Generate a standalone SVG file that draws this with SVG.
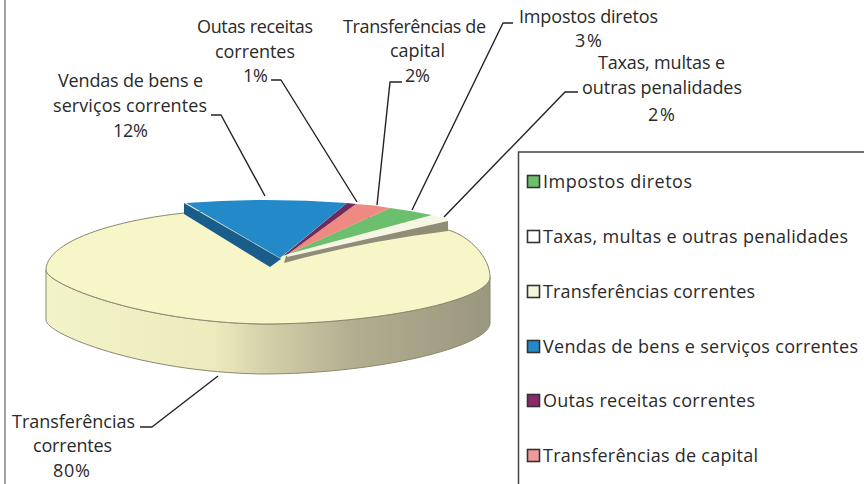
<svg xmlns="http://www.w3.org/2000/svg" width="864" height="484" viewBox="0 0 864 484">
  <defs>
    <linearGradient id="sideGrad" x1="46" y1="0" x2="490" y2="0" gradientUnits="userSpaceOnUse">
      <stop offset="0" stop-color="#f3f3c9"/>
      <stop offset="0.38" stop-color="#ecebbd"/>
      <stop offset="0.5" stop-color="#d3cfa8"/>
      <stop offset="0.7" stop-color="#b0ad90"/>
      <stop offset="1" stop-color="#9a977f"/>
    </linearGradient>
    <style>
      text { font-family: "Open Sans", "DejaVu Sans", sans-serif; font-size: 18px; fill: #2a2a2a; }
      .lead { fill: none; stroke: #222; stroke-width: 1.4; stroke-linejoin: round; }
      .sw { stroke: #333; stroke-width: 1.6; }
      .edge { stroke: #8a8870; stroke-width: 1; }
    </style>
  </defs>
  <rect x="0" y="0" width="864" height="484" fill="#ffffff"/>
  <line x1="5" y1="0" x2="5" y2="484" stroke="#666" stroke-width="1.2"/>

  <g id="pie">
    <g id="slice-transferencias-correntes">
      <path class="edge" fill="url(#sideGrad)" d="M46,270 C46,284 140,322 262,324 C380,324 490,300 490,277 L490,323 C490,346 380,374 262,374 C140,372 46,334 46,320 Z"/>
      <path class="edge" fill="#f6f6c9" d="M46,270 C46,235 150,210 240,210 C320,210 420,222 448,230 C470,236 490,258 490,277 C490,300 380,324 262,324 C140,322 46,284 46,270 Z"/>
    </g>
    <g id="slice-small">
      <path fill="#8f8c78" d="M448,219 L448,231 Q360,242 284,263 L286,256 Z"/>
      <path fill="#f7f6e4" d="M432,215 L448,219 L448,221 L287,257 L288,254 Z"/>
      <path fill="#6cbf6c" d="M390,208 Q412,211 432,215 L288,254 Z"/>
      <path fill="#ef8a82" d="M356,204 Q374,205 390,208 L288,254 Z"/>
      <path fill="#6e2a5e" d="M347,203 L356,204 L288,254 L283,256 Z"/>
    </g>
    <g id="slice-vendas">
      <path fill="#1b5d8a" d="M184,203 L184,214 L270,267 L281,259 Z"/>
      <path fill="#2389c9" d="M186,203 Q266,197 347,203 L280,258 Z"/>
    </g>
  </g>

  <g id="connectors">
    <polyline class="lead" points="211,115 221,115 265,196"/>
    <polyline class="lead" points="271,80 281,80 357,202"/>
    <polyline class="lead" points="402,82 390,82 377,205"/>
    <polyline class="lead" points="513,23 503,23 412,210"/>
    <polyline class="lead" points="578,92 565,92 444,217"/>
    <polyline class="lead" points="140,427 152,427 218,376"/>
  </g>

  <g id="labels">
    <g id="label-outas">
      <text x="197" y="33" textLength="116">Outas receitas</text>
      <text x="215" y="58" textLength="80">correntes</text>
      <text x="243" y="82" textLength="25">1%</text>
    </g>
    <g id="label-transf-capital">
      <text x="343" y="33" textLength="143">Transferências de</text>
      <text x="390" y="57" textLength="55">capital</text>
      <text x="405" y="82" textLength="25">2%</text>
    </g>
    <g id="label-impostos">
      <text x="519" y="23" textLength="139">Impostos diretos</text>
      <text x="575" y="47" textLength="27">3%</text>
    </g>
    <g id="label-taxas">
      <text x="598" y="69" textLength="127">Taxas, multas e</text>
      <text x="582" y="94" textLength="160">outras penalidades</text>
      <text x="648" y="121" textLength="27">2%</text>
    </g>
    <g id="label-vendas">
      <text x="58" y="87" textLength="145">Vendas de bens e</text>
      <text x="53" y="112" textLength="154">serviços correntes</text>
      <text x="113" y="137" textLength="35">12%</text>
    </g>
    <g id="label-transf-correntes">
      <text x="12" y="428" textLength="123">Transferências</text>
      <text x="33" y="452" textLength="79">correntes</text>
      <text x="53" y="477" textLength="37">80%</text>
    </g>
  </g>

  <g id="legend">
    <rect x="518.5" y="152" width="360" height="340" fill="none" stroke="#444" stroke-width="1.5"/>
    <g id="legend-impostos">
      <rect class="sw" x="527.5" y="175.5" width="12" height="12" fill="#6cbf6c"/>
      <text x="543" y="188" textLength="149">Impostos diretos</text>
    </g>
    <g id="legend-taxas">
      <rect class="sw" x="527.5" y="230.5" width="12" height="12" fill="#ffffff"/>
      <text x="543" y="243" textLength="305">Taxas, multas e outras penalidades</text>
    </g>
    <g id="legend-transf-correntes">
      <rect class="sw" x="527.5" y="285.5" width="12" height="12" fill="#f6f6d8"/>
      <text x="543" y="298" textLength="212">Transferências correntes</text>
    </g>
    <g id="legend-vendas">
      <rect class="sw" x="527.5" y="340.5" width="12" height="12" fill="#2389c9"/>
      <text x="543" y="353" textLength="315">Vendas de bens e serviços correntes</text>
    </g>
    <g id="legend-outas">
      <rect class="sw" x="527.5" y="394.5" width="12" height="12" fill="#8a2a6a"/>
      <text x="543" y="407" textLength="212">Outas receitas correntes</text>
    </g>
    <g id="legend-transf-capital">
      <rect class="sw" x="527.5" y="449.5" width="12" height="12" fill="#f29a9a"/>
      <text x="543" y="462" textLength="215">Transferências de capital</text>
    </g>
  </g>
</svg>
